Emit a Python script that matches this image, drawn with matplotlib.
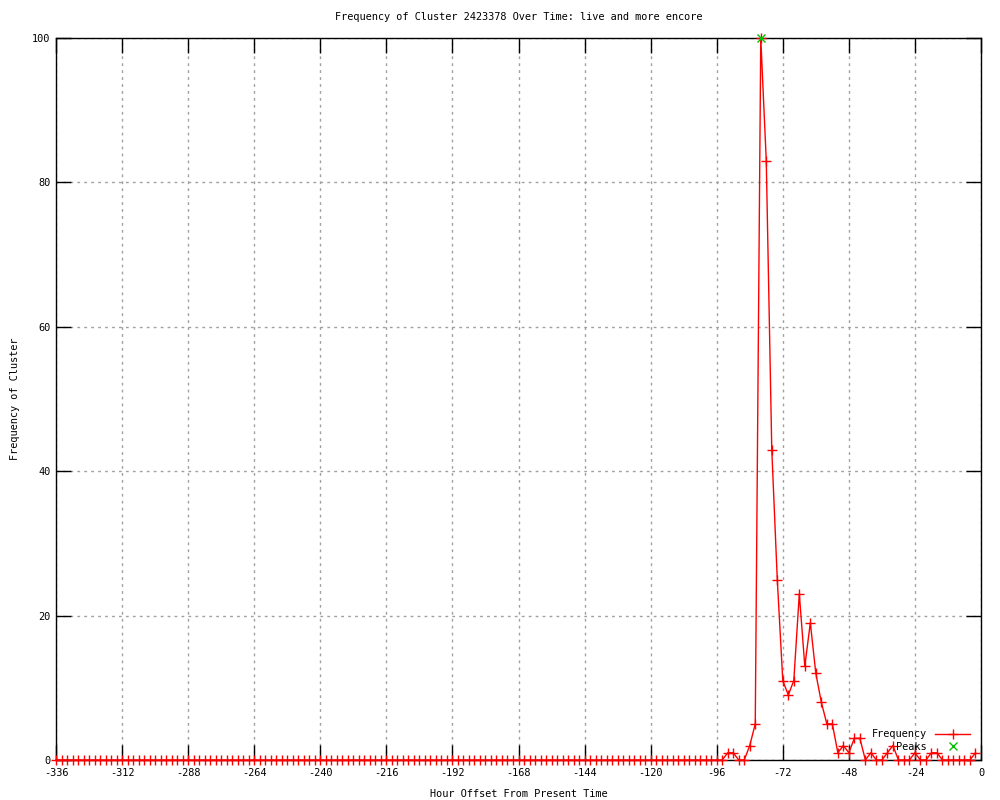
import numpy as np
import matplotlib
matplotlib.use("Agg")
import matplotlib.pyplot as plt

# hourly offsets, one sample every 2 hours
hours = np.arange(-336, 0, 2)
freq = [
    0, 0, 0, 0, 0, 0, 0, 0, 0, 0, 0, 0,        # -336 .. -314
    0, 0, 0, 0, 0, 0, 0, 0, 0, 0, 0, 0,        # -312 .. -290
    0, 0, 0, 0, 0, 0, 0, 0, 0, 0, 0, 0,        # -288 .. -266
    0, 0, 0, 0, 0, 0, 0, 0, 0, 0, 0, 0,        # -264 .. -242
    0, 0, 0, 0, 0, 0, 0, 0, 0, 0, 0, 0,        # -240 .. -218
    0, 0, 0, 0, 0, 0, 0, 0, 0, 0, 0, 0,        # -216 .. -194
    0, 0, 0, 0, 0, 0, 0, 0, 0, 0, 0, 0,        # -192 .. -170
    0, 0, 0, 0, 0, 0, 0, 0, 0, 0, 0, 0,        # -168 .. -146
    0, 0, 0, 0, 0, 0, 0, 0, 0, 0, 0, 0,        # -144 .. -122
    0, 0, 0, 0, 0, 0, 0, 0, 0, 0, 0, 0,        # -120 .. -98
    0, 0, 1, 1, 0, 0, 2, 5, 100, 83, 43, 25,   # -96 .. -74
    11, 9, 11, 23, 13, 19, 12, 8, 5, 5, 1, 2,  # -72 .. -50
    1, 3, 3, 0, 1, 0, 0, 1, 2, 0, 0, 0,        # -48 .. -26
    1, 0, 0, 1, 1, 0, 0, 0, 0, 0, 0, 1,        # -24 .. -2
]
peak_hours = [-80]
peak_freq = [100]

xticks = np.arange(-336, 1, 24)
yticks = np.arange(0, 101, 20)

plt.rcParams["font.family"] = ["DejaVu Sans Mono"]
plt.rcParams["axes.unicode_minus"] = False
FS = 7.4

fig = plt.figure(figsize=(10, 8), dpi=100)
ax = fig.add_axes([0.056, 0.05, 0.925, 0.9025])

ax.plot(hours, freq, color="#ff0000", lw=1, marker="+", ms=6.5, mew=1,
        clip_on=False, label="Frequency", zorder=3)
ax.plot(peak_hours, peak_freq, ls="none", color="#00c000", marker="x", ms=5.5,
        mew=1, clip_on=False, label="Peaks", zorder=4)

ax.set_xlim(-336, 0)
ax.set_ylim(0, 100)
ax.set_xticks(xticks)
ax.set_yticks(yticks)
ax.tick_params(direction="in", length=11, width=1, top=True, right=True,
               labelsize=FS, color="black")
ax.tick_params(axis="x", pad=6)
ax.tick_params(axis="y", pad=4)
ax.grid(True, color="#a0a0a0", ls=(0, (2, 3)), lw=1)
for s in ax.spines.values():
    s.set_linewidth(1)

ax.set_title("Frequency of Cluster 2423378 Over Time: live and more encore",
             fontsize=FS, pad=13)
ax.set_xlabel("Hour Offset From Present Time", fontsize=FS, labelpad=8)
ax.set_ylabel("Frequency of Cluster", fontsize=FS, labelpad=9)

ax.legend(loc="lower right", bbox_to_anchor=(0.997, 0.0), frameon=False,
          markerfirst=False, fontsize=FS, handlelength=3.4, handletextpad=0.8,
          labelspacing=0.25, borderpad=0.3)

fig.savefig("out.png", dpi=100)
